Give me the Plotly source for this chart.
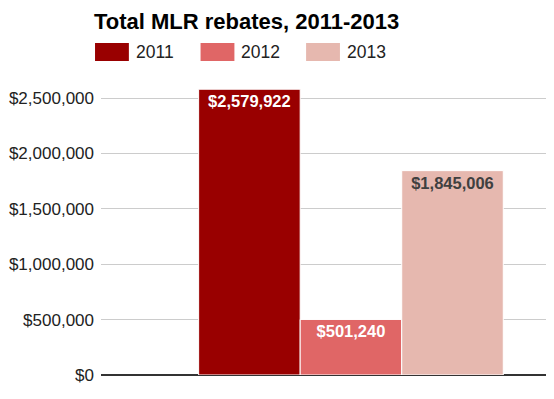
import plotly.graph_objects as go

years = ["2011", "2012", "2013"]
rebates = [2579922, 501240, 1845006]
colors = ["#990000", "#e06666", "#e6b8af"]
label_colors = ["#ffffff", "#ffffff", "#404040"]
tick_vals = [0, 500000, 1000000, 1500000, 2000000, 2500000]
tick_text = ["$0", "$500,000", "$1,000,000", "$1,500,000", "$2,000,000", "$2,500,000"]

FONT = "Liberation Sans"
OFF = 8  # page body margin
W, H = 554 - OFF, 399 - OFF
L, R, T, B = 99 - OFF, 1, 87 - OFF, 24
PW, PH = W - L - R, H - T - B

def px_x(x):  # reference pixel -> paper
    return (x - 99) / PW

def px_y(y):
    return (375 - y) / PH

fig = go.Figure()
for y, v, c, lc in zip(years, rebates, colors, label_colors):
    fig.add_trace(go.Bar(
        x=[""], y=[v], name=y, marker=dict(color=c, line=dict(color="white", width=1)),
        text=[f"<b>${v:,}</b>"], textposition="inside", insidetextanchor="end",
        textangle=0, constraintext="none",
        textfont=dict(family=FONT, size=16.5, color=lc),
        showlegend=False,
    ))

# legend drawn as swatches + text
x0 = 93
for i, (y, c) in enumerate(zip(years, colors)):
    xs = x0 + i * 106
    fig.add_shape(type="rect", xref="paper", yref="paper",
                  x0=px_x(xs), x1=px_x(xs + 34),
                  y0=px_y(61), y1=px_y(43),
                  fillcolor=c, line=dict(width=0), layer="above")
    fig.add_annotation(xref="paper", yref="paper", x=px_x(xs + 41),
                       y=px_y(52), text=y, showarrow=False,
                       xanchor="left", yanchor="middle", xshift=-2,
                       font=dict(family=FONT, size=17.5, color="#222222"))

fig.update_layout(
    width=W, height=H,
    margin=dict(l=L, r=R, t=T, b=B),
    paper_bgcolor="white", plot_bgcolor="white",
    barmode="group", bargap=0.2, bargroupgap=0,
    title=dict(text="<b>Total MLR rebates, 2011-2013</b>", x=(94 - OFF) / W, xanchor="left",
               y=1 - (21 - OFF) / H, yanchor="middle",
               font=dict(family=FONT, size=22, color="#000000")),
    xaxis=dict(range=[-0.6564, 0.5306], showticklabels=False, showgrid=False,
               zeroline=False, showline=False, fixedrange=True),
    yaxis=dict(range=[0, 2600000], tickvals=tick_vals, ticktext=tick_text,
               showgrid=True, gridcolor="#cccccc", gridwidth=1,
               zeroline=True, zerolinecolor="#333333", zerolinewidth=1.5,
               tickfont=dict(family=FONT, size=17, color="#222222"),
               ticks="", ticklabelstandoff=6),
    showlegend=False,
)

fig.write_html("out.html")
